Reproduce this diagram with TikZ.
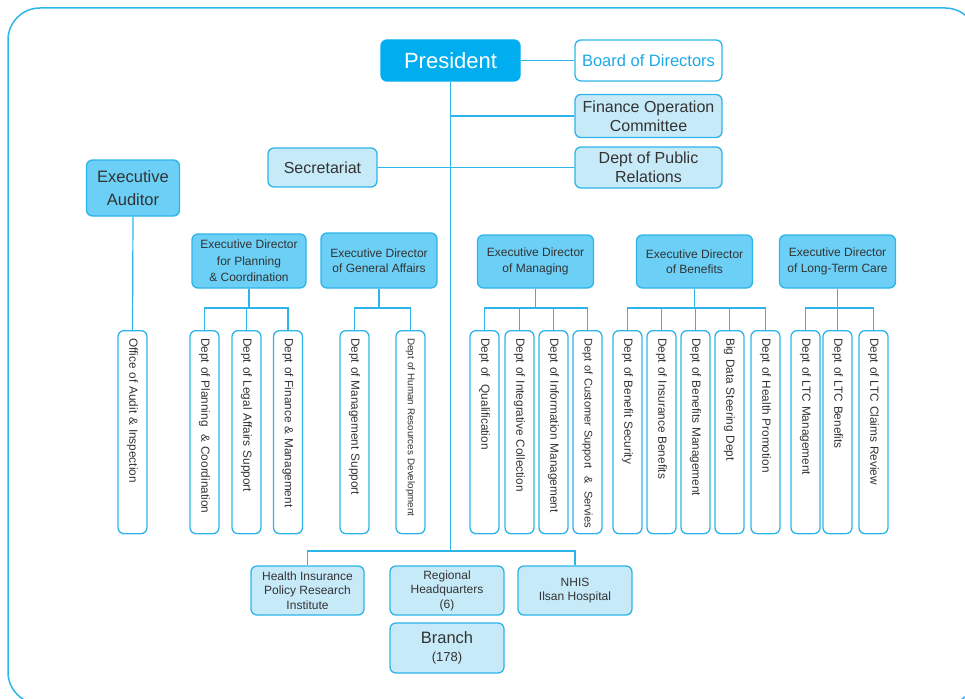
\documentclass[tikz,border=0pt]{standalone}
\usepackage{fontspec}
\setmainfont{Liberation Sans}
\definecolor{nhisblue}{HTML}{00AEEF}
\definecolor{linec}{HTML}{2DB4E8}
\definecolor{dirfill}{HTML}{6BCFF6}
\definecolor{lightfill}{HTML}{C7EAF9}
\definecolor{txt}{HTML}{333333}
\definecolor{boardtxt}{HTML}{1EAAE7}
\newcommand{\fs}[2]{\fontsize{#1}{#2}\selectfont}
\newcommand{\vtext}[1]{\mbox{#1}}
\begin{document}
\begin{tikzpicture}[x=1pt,y=-1pt,
  box/.style={draw=linec, line width=1.3pt, rounded corners=6pt, inner sep=0pt,
    align=center, text=txt},
  presbox/.style={box, fill=nhisblue, draw=nhisblue, text=white, font=\fs{22}{24},
    minimum width=139pt, minimum height=41pt},
  boardbox/.style={box, fill=white, text=boardtxt, font=\fs{16.5}{19},
    minimum width=147pt, minimum height=41pt},
  staffbox/.style={box, fill=lightfill, font=\fs{16}{19}},
  dirbox/.style={box, fill=dirfill, font=\fs{12}{15.5}, minimum height=53pt},
  deptbox/.style={box, fill=white, rotate=-90, anchor=west, font=\fs{11.8}{14},
    text width=188pt, inner xsep=7.5pt, align=left, minimum height=29pt},
  unitbox/.style={box, fill=lightfill, font=\fs{12}{14.5},
    minimum width=114pt, minimum height=49pt},
  conn/.style={draw=linec, line width=1.2pt}
]
\useasboundingbox (0,0) rectangle (965,698);
% outer frame
\draw[linec, line width=1.5pt, rounded corners=32pt] (8,8) rectangle (977,704);

% top level
\node[presbox] (pres) at (450.5,60.5) {President};
\node[boardbox] (board) at (648.5,60.5) {Board of Directors};
\node[staffbox, minimum width=147pt, minimum height=43pt] (foc) at (648.5,116) {Finance Operation\\Committee};
\node[staffbox, minimum width=147pt, minimum height=41pt] (pr) at (648.5,167.5) {Dept of Public\\Relations};
\node[staffbox, minimum width=109pt, minimum height=39pt] (sec) at (322.5,167.5) {Secretariat};
\node[box, fill=dirfill, font=\fs{16.5}{23}, minimum width=93pt, minimum height=56pt] (aud) at (133,188) {Executive\\Auditor};

% executive directors
\node[dirbox, font=\fs{12}{16.5}, minimum width=114pt, minimum height=54pt] (pl) at (249,261) {Executive Director\\for Planning\\\& Coordination};
\node[dirbox, minimum width=116pt, minimum height=55pt] (ga) at (379,260.5) {Executive Director\\of General Affairs};
\node[dirbox, minimum width=116pt] (mg) at (535.5,261.5) {Executive Director\\of Managing};
\node[dirbox, minimum width=116pt] (bn) at (694.5,261.5) {Executive Director\\of Benefits};
\node[dirbox, minimum width=116pt] (lt) at (837.5,261.5) {Executive Director\\of Long-Term Care};

% departments
\node[deptbox] (d0) at (132.5,330) {\vtext{Office of Audit \& Inspection}};
\node[deptbox] (p1) at (204.5,330) {\vtext{Dept of Planning \ \& Coordination}};
\node[deptbox] (p2) at (246.5,330) {\vtext{Dept of Legal Affairs Support}};
\node[deptbox] (p3) at (288,330) {\vtext{Dept of Finance \& Management}};
\node[deptbox] (g1) at (354.5,330) {\vtext{Dept of Management Support}};
\node[deptbox, font=\fs{9.8}{12}] (g2) at (410.5,330) {\vtext{Dept of Human Resources Development}};
\node[deptbox] (m1) at (484.5,330) {\vtext{Dept of \ Qualification}};
\node[deptbox] (m2) at (519.5,330) {\vtext{Dept of Integrative Collection}};
\node[deptbox] (m3) at (553.5,330) {\vtext{Dept of Information Management}};
\node[deptbox, font=\fs{11.1}{13}] (m4) at (587.5,330) {\vtext{Dept of Customer Support \ \& \ Servies}};
\node[deptbox] (b1) at (627.5,330) {\vtext{Dept of Benefit Security}};
\node[deptbox] (b2) at (661.5,330) {\vtext{Dept of Insurance Benefits}};
\node[deptbox] (b3) at (695.5,330) {\vtext{Dept of Benefits Management}};
\node[deptbox] (b4) at (729.5,330) {\vtext{Big Data Steering Dept}};
\node[deptbox] (b5) at (765.5,330) {\vtext{Dept of Health Promotion}};
\node[deptbox] (l1) at (805.5,330) {\vtext{Dept of LTC Management}};
\node[deptbox] (l2) at (837.5,330) {\vtext{Dept of LTC Benefits}};
\node[deptbox] (l3) at (873.5,330) {\vtext{Dept of LTC Claims Review}};

% affiliated bodies
\node[unitbox, minimum width=113pt] (hi) at (307.5,590.5) {Health Insurance\\Policy Research\\Institute};
\node[unitbox] (rh) at (447,590.5) {Regional\\Headquarters\\(6)};
\node[unitbox] (ns) at (575,590.5) {NHIS\\Ilsan Hospital};
\node[unitbox, minimum height=50pt, font=\fs{13}{15}] (br) at (447,648) {{\fs{16.5}{19}Branch}\\[3pt](178)};

% junction points
\coordinate (fj) at (450.5,116);
\coordinate (sj) at (450.5,551);
\coordinate (plj) at (249,308);
\coordinate (gaj) at (379,308);
\coordinate (mgj) at (535.5,308);
\coordinate (bnj) at (694.5,308);
\coordinate (ltj) at (837.5,308);

% connectors
\draw[conn] (pres.south) -- (sj);
\draw[conn] (pres.east) -- (board.west);
\draw[conn] (fj) -- (foc.west);
\draw[conn] (sec.east) -- (pr.west);
\draw[conn] (aud.south) -- (d0.west);

\draw[conn] (pl.south) -- (plj);
\foreach \d in {p1,p2,p3} \draw[conn] (\d.west) |- (plj);
\draw[conn] (ga.south) -- (gaj);
\foreach \d in {g1,g2} \draw[conn] (\d.west) |- (gaj);
\draw[conn] (mg.south) -- (mgj);
\foreach \d in {m1,m2,m3,m4} \draw[conn] (\d.west) |- (mgj);
\draw[conn] (bn.south) -- (bnj);
\foreach \d in {b1,b2,b3,b4,b5} \draw[conn] (\d.west) |- (bnj);
\draw[conn] (lt.south) -- (ltj);
\foreach \d in {l1,l2,l3} \draw[conn] (\d.west) |- (ltj);

\draw[conn] (hi.north) |- (sj);
\draw[conn] (ns.north) |- (sj);
\end{tikzpicture}
\end{document}
